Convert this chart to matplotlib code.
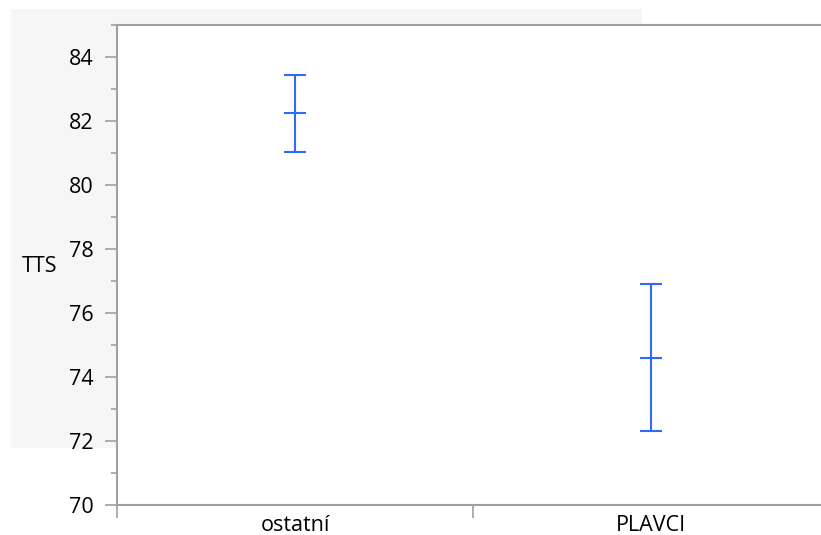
import matplotlib
matplotlib.use("Agg")
import matplotlib.pyplot as plt
from matplotlib.patches import Rectangle
from matplotlib.ticker import MultipleLocator, FixedLocator, NullFormatter

plt.rcParams['font.family'] = ['Open Sans', 'DejaVu Sans']

categories = ["ostatní", "PLAVCI"]
means = [82.24, 74.60]
upper = [83.45, 76.90]
lower = [81.04, 72.31]
y_label = "TTS"

fig = plt.figure(figsize=(8.21, 5.35), dpi=100)
bg = Rectangle((11/821, 1-448/535), (642-11)/821, (448-9)/535,
               transform=fig.transFigure, facecolor='#f6f6f6',
               edgecolor='none', zorder=-10)
fig.patches.append(bg)
ax = fig.add_axes([117/821, 1-505/535, (829-117)/821, (505-25)/535])
ax.set_facecolor('white')
ax.set_zorder(1)

x = list(range(len(categories)))
yerr = [[m - l for m, l in zip(means, lower)], [u - m for m, u in zip(means, upper)]]
blue = '#2f6cf6'
ax.errorbar(x, means, yerr=yerr, fmt='none', ecolor=blue, elinewidth=1.5,
            capsize=8, capthick=1.5)
ax.scatter(x, means, marker='_', s=260, color=blue, linewidths=1.5, zorder=3)

ax.set_xlim(-0.5, 1.5)
ax.set_ylim(70, 85)

gray = '#a0a0a0'
for s in ['left', 'top', 'bottom']:
    ax.spines[s].set_color(gray)
    ax.spines[s].set_linewidth(1.5)
ax.spines['right'].set_visible(False)

ax.yaxis.set_major_locator(MultipleLocator(2))
ax.yaxis.set_minor_locator(MultipleLocator(1))
ax.tick_params(axis='y', which='major', length=9, width=1.2, color=gray,
               labelsize=15.5, pad=8, labelcolor='black')
ax.tick_params(axis='y', which='minor', length=4, width=1.2, color=gray)

ax.xaxis.set_major_locator(FixedLocator([-0.5, 0.5, 1.5]))
ax.xaxis.set_major_formatter(NullFormatter())
ax.xaxis.set_minor_locator(FixedLocator(x))
ax.set_xticklabels(categories, minor=True)
ax.tick_params(axis='x', which='major', length=9, width=1.2, color=gray)
ax.tick_params(axis='x', which='minor', length=0, labelsize=15.5, pad=7)

fig.text(40/821, 1-266/535, y_label, fontsize=15.5, ha='center', va='center')

fig.savefig("out.png", dpi=100)
